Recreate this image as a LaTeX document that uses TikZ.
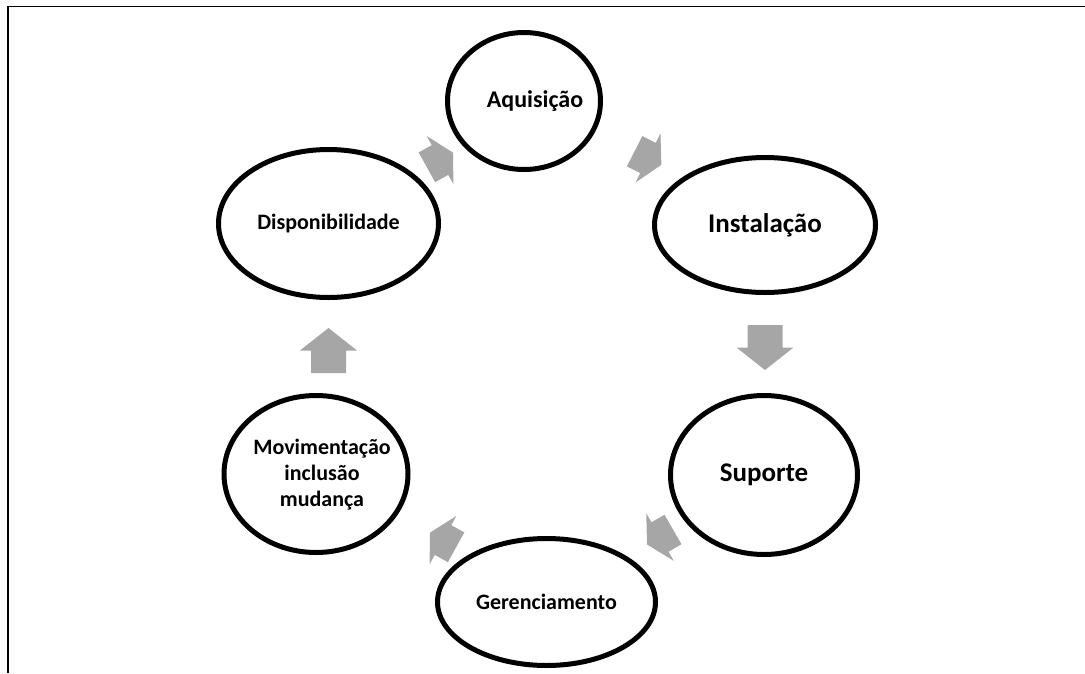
\documentclass[tikz,border=0pt]{standalone}
\usepackage{fontspec}
\setmainfont{Carlito}
\usetikzlibrary{shapes.geometric}
\definecolor{arrowgray}{RGB}{166,166,166}
\tikzset{
  stage/.style={draw=black, line width=5pt, ellipse, inner sep=0pt},
  txt/.style={align=center, inner sep=0pt, font=\bfseries\fontsize{22}{26}\selectfont},
  bigtxt/.style={align=center, inner sep=0pt, font=\bfseries\fontsize{27}{32}\selectfont},
  midtxt/.style={align=center, inner sep=0pt, font=\bfseries\fontsize{24}{29}\selectfont},
  pics/smallarrow/.style={code={\fill[arrowgray] (-15,-17)--(0,-17)--(0,-27.5)--(15,0)--(0,27.5)--(0,17)--(-15,17)--cycle;}},
  pics/bigarrow/.style={code={\fill[arrowgray] (-22.5,-17.5)--(0,-17.5)--(0,-28.5)--(22.5,0)--(0,28.5)--(0,17.5)--(-22.5,17.5)--cycle;}},
}
\begin{document}
\begin{tikzpicture}[x=1pt,y=-1pt]
\useasboundingbox (0,0) rectangle (1085,673);
\draw[line width=1.5pt] (8,673) -- (8,6.5) -- (1085,6.5);

\node[stage, minimum width=153pt, minimum height=137pt] (aq) at (524,101) {};
\node[stage, minimum width=221pt, minimum height=135pt] (in) at (765,225) {};
\node[stage, minimum width=187pt, minimum height=159pt] (su) at (764,475) {};
\node[stage, minimum width=218pt, minimum height=127pt] (ge) at (546.5,602) {};
\node[stage, minimum width=184pt, minimum height=157pt] (mo) at (316,474) {};
\node[stage, minimum width=220pt, minimum height=148pt] (di) at (328.5,223.5) {};

\node[midtxt] (aqt) at (535,101) {Aquisição};
\node[bigtxt] (int) at (in) {Instalação};
\node[bigtxt] (sut) at (su) {Suporte};
\node[txt] (get) at (ge) {Gerenciamento};
\node[txt] (mot) at (322,475) {Movimentação\\inclusão\\mudança};
\node[txt] (dit) at (di) {Disponibilidade};

\pic[rotate=29] at (440,160) {smallarrow};
\pic[rotate=-27] at (648,158) {smallarrow};
\pic[rotate=-90] at (765,347.5) {bigarrow};
\pic[rotate=210] at (660,537) {smallarrow};
\pic[rotate=151] at (443,540) {smallarrow};
\pic[rotate=90] at (328.5,350.5) {bigarrow};
\end{tikzpicture}
\end{document}
